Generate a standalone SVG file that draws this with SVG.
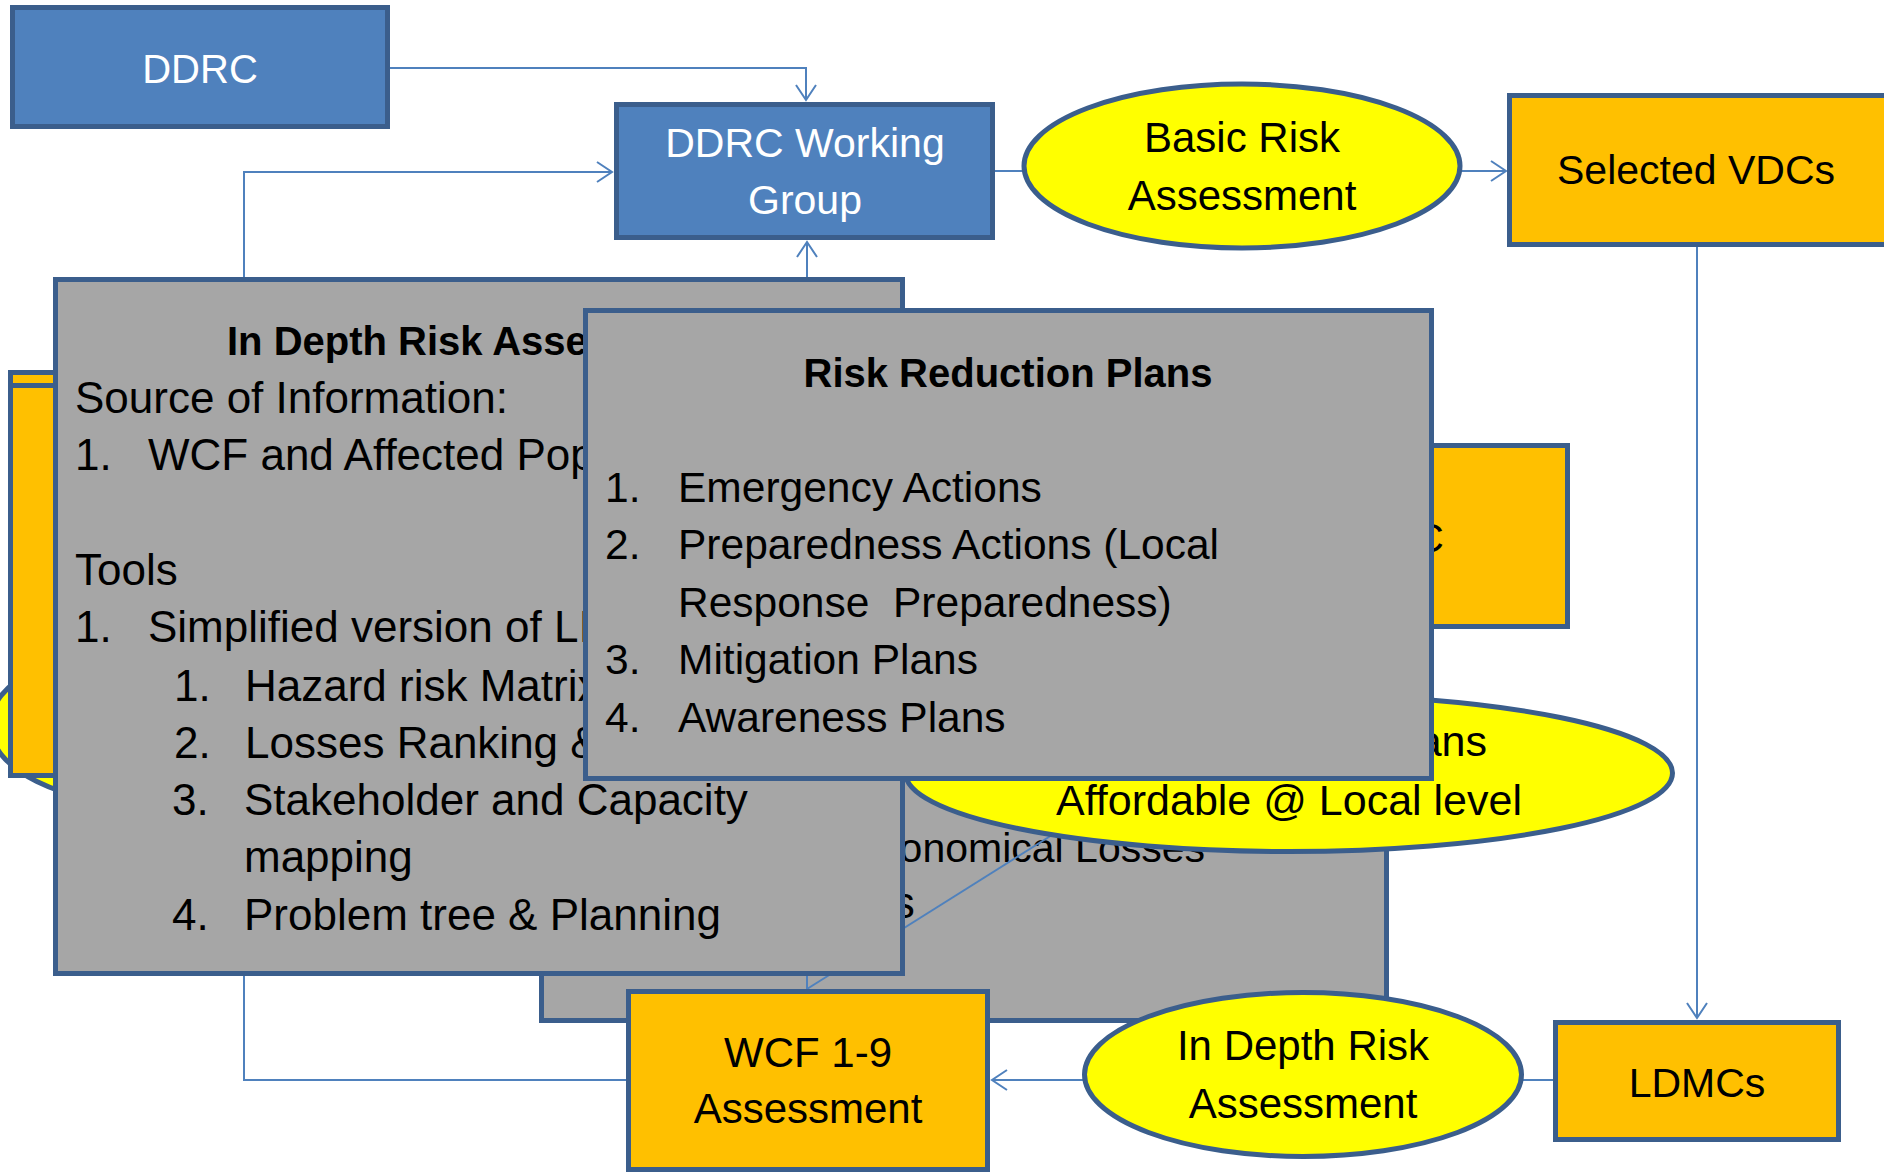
<svg xmlns="http://www.w3.org/2000/svg" width="1884" height="1175" viewBox="0 0 1884 1175">
<defs>
<style>
.blue{fill:#4F81BD;stroke:#3B5E8C;stroke-width:5}
.orange{fill:#FFC000;stroke:#3B5E8C;stroke-width:5}
.yellow{fill:#FFFF00;stroke:#3B5E8C;stroke-width:5}
.gray{fill:#A6A6A6;stroke:#3B5E8C;stroke-width:5}
.conn{fill:none;stroke:#4F81BD;stroke-width:2}
text{font-family:"Liberation Sans",Arial,sans-serif;fill:#000}
.lbl{font-size:41px;text-anchor:middle}
.wlbl{font-size:41px;text-anchor:middle;fill:#FFFFFF}
.ell{font-size:42px;text-anchor:middle}
.body{font-size:44px}
.rbody{font-size:42.5px}
.title{font-size:40px;font-weight:bold}
</style>
<marker id="arr" markerUnits="userSpaceOnUse" markerWidth="18" markerHeight="24" viewBox="0 0 18 24" refX="16" refY="12" orient="auto">
<path d="M1,2 L16,12 L1,22" fill="none" stroke="#4F81BD" stroke-width="2"/>
</marker>
</defs>
<rect width="1884" height="1175" fill="#FFFFFF"/>

<g id="hidden-left-ellipse"><ellipse class="yellow" cx="150" cy="725" rx="160" ry="80"/></g>
<g id="hidden-left-box-1"><rect class="orange" x="10.5" y="372.5" width="200" height="403"/></g>
<g id="hidden-left-box-2"><rect class="orange" x="10.5" y="385.5" width="200" height="390"/></g>
<g id="hidden-right-box"><rect class="orange" x="1302.5" y="445.5" width="265" height="181"/><text class="lbl" x="1429" y="552">C</text></g>
<g id="hidden-gray-box"><rect class="gray" x="541.5" y="600" width="845" height="420.5"/>
<text class="body" x="1205" y="862" style="text-anchor:end;font-size:41px">onomical Losses</text>
<text class="body" x="893" y="918" style="font-size:43.5px">s</text></g>

<g id="connectors">
<path class="conn" d="M390,68 H806 V100" marker-end="url(#arr)"/>
<path class="conn" d="M626,1080 H244 V172 H612" marker-end="url(#arr)"/>
<path class="conn" d="M807,989 V242" marker-end="url(#arr)"/>
<path class="conn" d="M995,171 H1506" marker-end="url(#arr)"/>
<path class="conn" d="M1697,247 V1018" marker-end="url(#arr)"/>
<path class="conn" d="M1553,1080 H992" marker-end="url(#arr)"/>
<path class="conn" d="M807,989 L1060,830"/>
</g>

<g id="plans-ellipse"><ellipse class="yellow" cx="1289" cy="773" rx="383.5" ry="78.5"/>
<text class="ell" x="1487" y="756" style="text-anchor:end;font-size:43px">ans</text>
<text class="ell" x="1289" y="815" style="font-size:43px">Affordable @ Local level</text></g>

<g id="in-depth-box"><rect class="gray" x="55.5" y="279.5" width="847" height="694"/>
<text class="title" x="227" y="355">In Depth Risk Asse</text>
<text class="body" x="75" y="413">Source of Information:</text>
<text class="body" x="75" y="470">1.</text><text class="body" x="148" y="470">WCF and Affected Pop</text>
<text class="body" x="75" y="585">Tools</text>
<text class="body" x="75" y="642">1.</text><text class="body" x="148" y="642">Simplified version of LI</text>
<text class="body" x="174" y="701">1.</text><text class="body" x="245" y="701">Hazard risk Matrix</text>
<text class="body" x="174" y="758">2.</text><text class="body" x="245" y="758">Losses Ranking &amp;</text>
<text class="body" x="172" y="815">3.</text><text class="body" x="244" y="815">Stakeholder and Capacity</text>
<text class="body" x="244" y="872">mapping</text>
<text class="body" x="172" y="930">4.</text><text class="body" x="244" y="930">Problem tree &amp; Planning</text></g>

<g id="risk-reduction-box"><rect class="gray" x="585.5" y="310.5" width="846" height="468"/>
<text class="title" x="1008" y="387" style="text-anchor:middle">Risk Reduction Plans</text>
<text class="rbody" x="605" y="502">1.</text><text class="rbody" x="678" y="502">Emergency Actions</text>
<text class="rbody" x="605" y="559">2.</text><text class="rbody" x="678" y="559">Preparedness Actions (Local</text>
<text class="rbody" x="678" y="617" xml:space="preserve">Response  Preparedness)</text>
<text class="rbody" x="605" y="674">3.</text><text class="rbody" x="678" y="674">Mitigation Plans</text>
<text class="rbody" x="605" y="732">4.</text><text class="rbody" x="678" y="732">Awareness Plans</text></g>

<g id="ddrc"><rect class="blue" x="12.5" y="7.5" width="375" height="119"/><text class="wlbl" x="200" y="83" style="font-size:40px">DDRC</text></g>
<g id="ddrc-working-group"><rect class="blue" x="616.5" y="104.5" width="376" height="133"/><text class="wlbl" x="805" y="157">DDRC Working</text><text class="wlbl" x="805" y="214">Group</text></g>
<g id="basic-risk-assessment"><ellipse class="yellow" cx="1242" cy="166" rx="218" ry="82"/><text class="ell" x="1242" y="152">Basic Risk</text><text class="ell" x="1242" y="210">Assessment</text></g>
<g id="selected-vdcs"><rect class="orange" x="1509.5" y="95.5" width="400" height="149"/><text class="lbl" x="1696" y="184">Selected VDCs</text></g>
<g id="ldmcs"><rect class="orange" x="1555.5" y="1022.5" width="283" height="117"/><text class="lbl" x="1697" y="1097">LDMCs</text></g>
<g id="in-depth-risk-assessment"><ellipse class="yellow" cx="1303" cy="1074.5" rx="218.5" ry="82"/><text class="ell" x="1303" y="1060">In Depth Risk</text><text class="ell" x="1303" y="1118">Assessment</text></g>
<g id="wcf-assessment"><rect class="orange" x="628.5" y="991.5" width="359" height="178"/><text class="ell" x="808" y="1067">WCF 1-9</text><text class="ell" x="808" y="1123">Assessment</text></g>
</svg>
